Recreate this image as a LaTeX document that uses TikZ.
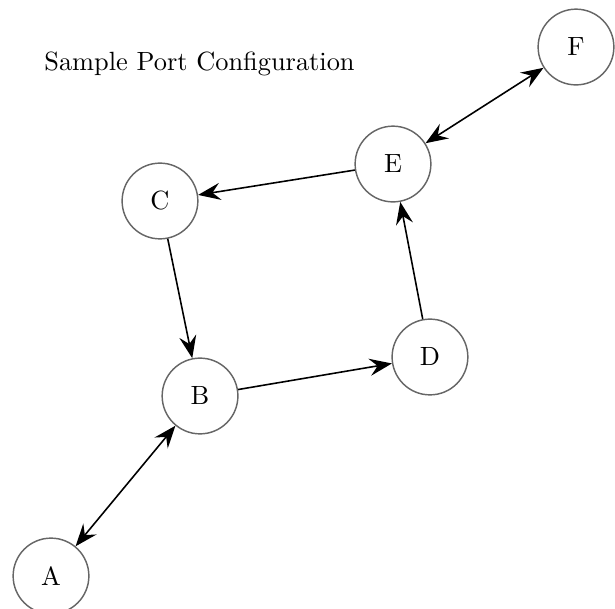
\documentclass[tikz,border=0pt]{standalone}
\usepackage{tikz}
\usetikzlibrary{arrows.meta}
\newcommand{\ringcolor}{black!60}
\newcommand{\ringsize}{1.01cm}
\newcommand{\linkwidth}{0.6pt}

\begin{document}
\begin{tikzpicture}
    \useasboundingbox (0,0) rectangle (8.2,-8.12);
    \begin{scope}[every node/.style={draw=\ringcolor, circle, line width=0.55pt, minimum size=\ringsize, inner sep=0pt}]
        \node (A) at (0.68,-7.68) {A};
        \node (B) at (2.667,-5.28) {B};
        \node (C) at (2.133,-2.68) {C};
        \node (D) at (5.733,-4.76) {D};
        \node (E) at (5.24,-2.187) {E};
        \node (F) at (7.68,-0.627) {F};
    \end{scope}
    \node (title) at (2.66,-0.85) {Sample Port Configuration};

    %Links:
    \begin{scope}[line width=\linkwidth, >={Stealth[length=8.5pt,width=6.5pt,inset=3pt]}]
        \draw[<->] (A) -- (B);
        \draw[->] (C) -- (B);
        \draw[->] (B) -- (D);
        \draw[->] (D) -- (E);
        \draw[->] (E) -- (C);
        \draw[<->] (E) -- (F);
    \end{scope}
\end{tikzpicture}
\end{document}
